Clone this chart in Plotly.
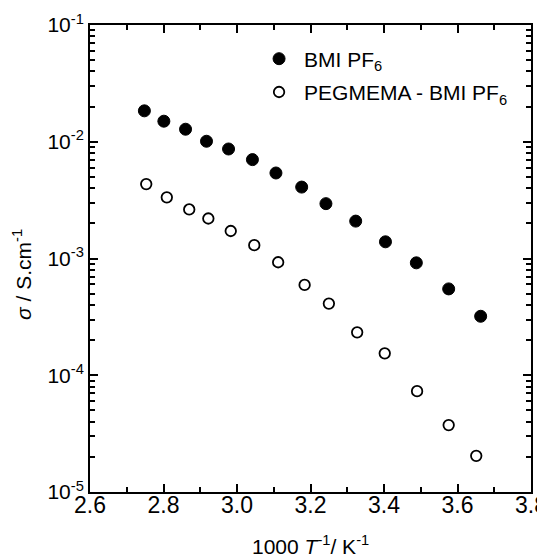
import plotly.graph_objects as go

inv_T_bmi = [2.748, 2.801, 2.860, 2.917, 2.977, 3.042, 3.106, 3.176, 3.242, 3.323, 3.404, 3.488, 3.576, 3.663]
sigma_bmi = [0.0184, 0.0150, 0.0128, 0.0101, 0.00867, 0.00703, 0.00540, 0.00409, 0.00295, 0.00209, 0.00139, 0.000918, 0.000549, 0.000320]

inv_T_peg = [2.753, 2.809, 2.870, 2.922, 2.983, 3.047, 3.112, 3.184, 3.250, 3.327, 3.402, 3.490, 3.576, 3.651]
sigma_peg = [0.00434, 0.00334, 0.00263, 0.00220, 0.00172, 0.00130, 0.000929, 0.000594, 0.000411, 0.000233, 0.000154, 0.0000731, 0.0000374, 0.0000204]

y_tickvals = [1e-5, 1e-4, 1e-3, 1e-2, 1e-1]
y_ticktext = ["10<sup>-5</sup>", "10<sup>-4</sup>", "10<sup>-3</sup>", "10<sup>-2</sup>", "10<sup>-1</sup>"]
y_minor = [m * 10.0 ** e for e in range(-5, -1) for m in range(2, 10)]

FONT = "Arial, Liberation Sans, sans-serif"

fig = go.Figure()
fig.add_trace(go.Scatter(
    x=inv_T_bmi, y=sigma_bmi, mode="markers", name="BMI PF<sub>6</sub>", legendgroup="a",
    marker=dict(symbol="circle", size=12, color="black", line=dict(color="black", width=1)),
))
fig.add_trace(go.Scatter(
    x=inv_T_peg, y=sigma_peg, mode="markers", name="PEGMEMA - BMI PF<sub>6</sub>", legendgroup="b",
    marker=dict(symbol="circle-open", size=10.5, color="black", line=dict(color="black", width=1.8)),
))

axis_common = dict(
    showline=True, linecolor="black", linewidth=2, mirror="allticks",
    ticks="inside", ticklen=8, tickwidth=1.5, tickcolor="black",
    showgrid=False, zeroline=False, automargin=False,
)

fig.update_xaxes(
    range=[2.6, 3.8], tickmode="linear", tick0=2.6, dtick=0.2, tickformat=".1f",
    tickfont=dict(family=FONT, size=23, color="black"), ticklabeloverflow="allow",
    ticklabelstandoff=-9,
    minor=dict(ticks="inside", ticklen=5, tickwidth=1.5, tickcolor="black", dtick=0.1, tick0=2.6, showgrid=False),
    **axis_common,
)
fig.update_yaxes(
    type="log", range=[-5, -1], tickmode="array", tickvals=y_tickvals, ticktext=y_ticktext,
    tickfont=dict(family=FONT, size=21, color="black"), ticklabeloverflow="allow",
    minor=dict(ticks="inside", ticklen=5, tickwidth=1.5, tickcolor="black", tickmode="array", tickvals=y_minor, showgrid=False),
    **axis_common,
)

fig.add_annotation(
    text="<i>σ</i> / S.cm<sup>-1</sup>", xref="paper", yref="paper",
    x=-0.154, y=0.465, xanchor="center", yanchor="middle", textangle=-90,
    showarrow=False, font=dict(family=FONT, size=21, color="black"),
)
fig.add_annotation(
    text="1000 <i>T</i><sup>-1</sup>/ K<sup>-1</sup>", xref="paper", yref="paper",
    x=0.5, y=-0.114, xanchor="center", yanchor="middle",
    showarrow=False, font=dict(family=FONT, size=21, color="black"),
)

fig.update_layout(
    width=537, height=550,
    margin=dict(l=82, r=14, t=17, b=66),
    paper_bgcolor="white", plot_bgcolor="white",
    font=dict(family=FONT, size=21, color="black"),
    showlegend=True,
    legend=dict(x=0.372, y=0.971, xanchor="left", yanchor="top", bgcolor="rgba(0,0,0,0)",
                font=dict(family=FONT, size=21, color="black"), itemwidth=40, tracegroupgap=3),
)

fig.write_html("out.html")
